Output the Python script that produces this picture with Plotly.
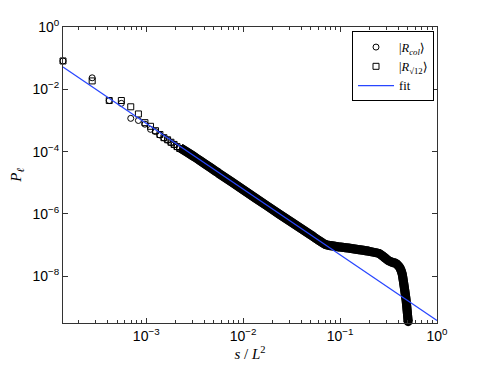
import plotly.graph_objects as go
import math

# ---------------- data ----------------
# discrete small-s points (s = k / L^2, L = 85)
pts_s = [1.384e-4, 2.768e-4, 4.152e-4, 5.536e-4, 6.92e-4, 8.30e-4, 9.69e-4, 1.107e-3,
         1.246e-3, 1.384e-3, 1.522e-3, 1.661e-3, 1.799e-3, 1.938e-3, 2.076e-3, 2.215e-3]
col_P = [8.13e-2, 2.34e-2, 4.37e-3, 3.55e-3, 1.17e-3, 1.0e-3, 7.6e-4, 5.2e-4,
         4.4e-4, 3.4e-4, 2.75e-4, 2.35e-4, 1.95e-4, 1.66e-4, 1.41e-4, 1.26e-4]
sq_P = [8.13e-2, 1.86e-2, 4.37e-3, 4.37e-3, 2.75e-3, 1.62e-3, 8.5e-4, 6.5e-4,
        4.7e-4, 3.55e-4, 2.8e-4, 2.4e-4, 2.0e-4, 1.7e-4, 1.45e-4, 1.26e-4]

# dense region (markers overlap into a band) – both series coincide
band_s = [2.24e-3, 3.16e-3, 5.62e-3, 1.0e-2, 1.78e-2, 3.16e-2, 5.0e-2, 7.08e-2, 0.1,
          0.126, 0.158, 0.2, 0.251, 0.282, 0.316, 0.347, 0.372, 0.398, 0.417, 0.437,
          0.452, 0.465, 0.479, 0.492, 0.504]
band_P = [1.32e-4, 6.76e-5, 2.0e-5, 6.0e-6, 1.78e-6, 5.4e-7, 2.1e-7, 1.05e-7, 8.7e-8,
          7.9e-8, 7.1e-8, 6.3e-8, 5.4e-8, 4.2e-8, 3.16e-8, 2.8e-8, 2.6e-8, 2.2e-8,
          1.8e-8, 1.2e-8, 6.3e-9, 3.5e-9, 1.8e-9, 7.9e-10, 3.5e-10]

# power-law fit
fit_s = [1.384e-4, 1.0]
fit_P = [5.2e-2, 3.8e-10]

x_tickvals = [1e-3, 1e-2, 1e-1, 1e0]
x_ticktext = ["10<sup>−3</sup>", "10<sup>−2</sup>", "10<sup>−1</sup>", "10<sup>0</sup>"]
y_tickvals = [1e-8, 1e-6, 1e-4, 1e-2, 1e0]
y_ticktext = ["10<sup>−8</sup>", "10<sup>−6</sup>", "10<sup>−4</sup>", "10<sup>−2</sup>", "10<sup>0</sup>"]

# ---------------- figure ----------------
fig = go.Figure()

for name in ("col", "sq"):
    fig.add_trace(go.Scatter(
        x=band_s, y=band_P, mode="lines",
        line=dict(color="black", width=9, shape="spline", smoothing=0.6),
        showlegend=False, hoverinfo="skip"))
fig.add_trace(go.Scatter(
    x=band_s[-1:], y=band_P[-1:], mode="markers",
    marker=dict(symbol="circle", size=9, color="black"),
    cliponaxis=False, showlegend=False, hoverinfo="skip"))

fig.add_trace(go.Scatter(
    x=pts_s, y=col_P, mode="markers", name="|<i>R</i><sub><i>col</i></sub>⟩",
    marker=dict(symbol="circle-open", size=6, color="black", line=dict(width=1)),
    cliponaxis=False))
fig.add_trace(go.Scatter(
    x=pts_s, y=sq_P, mode="markers", name="|<i>R</i><sub>√12</sub>⟩",
    marker=dict(symbol="square-open", size=6, color="black", line=dict(width=1)),
    cliponaxis=False))
fig.add_trace(go.Scatter(
    x=fit_s, y=fit_P, mode="lines", name="fit",
    line=dict(color="rgb(40,70,255)", width=1.2)))

minor_x = []
for d in range(-4, 0):
    for m in range(2, 10):
        v = m * 10 ** d
        if v > 1.384e-4:
            minor_x.append(v)

axis_common = dict(
    showline=True, linecolor="#333", linewidth=1, mirror="allticks",
    ticks="inside", tickcolor="#333", ticklen=5, showgrid=False, zeroline=False,
    automargin=False,
    tickfont=dict(family="Liberation Sans, Arial, sans-serif", size=14, color="black"),
)

fig.update_xaxes(
    type="log", range=[math.log10(1.384e-4), 0],
    tickmode="array", tickvals=x_tickvals, ticktext=x_ticktext,
    minor=dict(tickmode="array", tickvals=minor_x, ticks="inside", ticklen=3,
               tickcolor="#333", showgrid=False),
    title=dict(text="<i>s</i> / <i>L</i><sup>2</sup>", standoff=2,
               font=dict(family="Liberation Serif, DejaVu Serif, serif", size=15, color="black")),
    **axis_common)
fig.update_yaxes(
    type="log", range=[-9.5, 0],
    tickmode="array", tickvals=y_tickvals, ticktext=y_ticktext,
    title=dict(text="<i>P</i><sub><i>ℓ</i></sub>", standoff=12,
               font=dict(family="Liberation Serif, DejaVu Serif, serif", size=15, color="black")),
    **axis_common)

# page body has an 8px margin: size/margins compensate so the plot area lands at 63..437 x 27..323
fig.update_layout(
    width=477, height=357,
    margin=dict(l=55, r=48, t=19, b=42),
    paper_bgcolor="white", plot_bgcolor="white",
    showlegend=True,
    legend=dict(x=0.992, xanchor="right", y=0.985, yanchor="top",
                bgcolor="white", bordercolor="black", borderwidth=1,
                font=dict(family="Liberation Serif, DejaVu Serif, serif", size=12.5, color="black"),
                tracegroupgap=0, itemwidth=36),
)

fig.write_html("out.html")
